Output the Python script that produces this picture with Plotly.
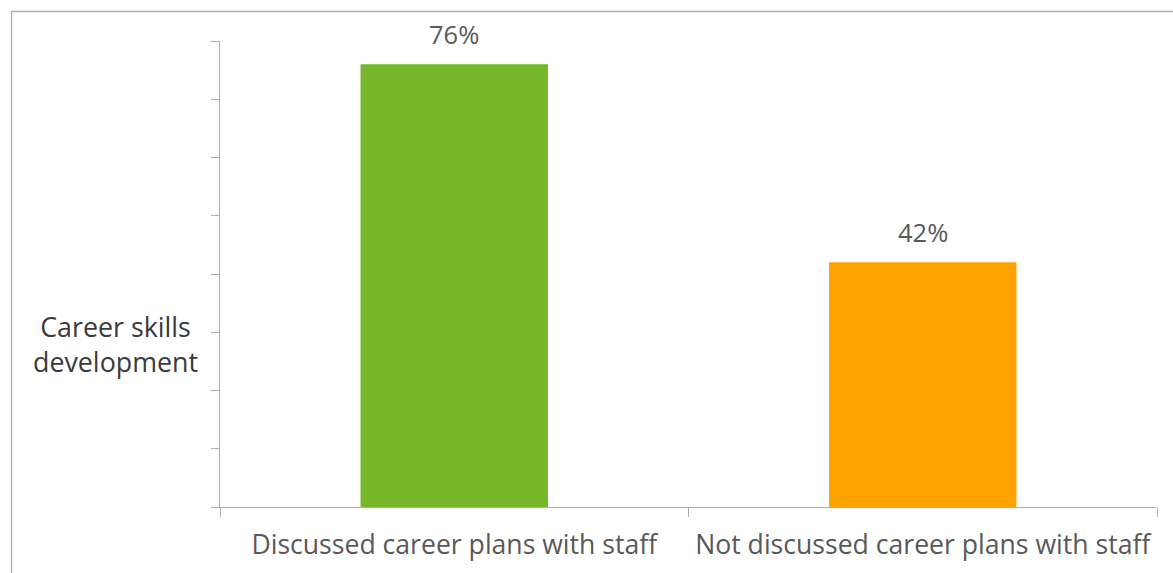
import plotly.graph_objects as go

categories = ["Discussed career plans with staff", "Not discussed career plans with staff"]
values = [0.76, 0.42]
bar_colors = ["#76B82A", "#FFA200"]
y_title = "Career skills<br>development"

W, H = 1173, 573
ml, mr, mt, mb = 220, 16, 41, 66
pw, ph = W - ml - mr, H - mt - mb

fig = go.Figure(
    go.Bar(
        x=categories,
        y=values,
        marker=dict(color=bar_colors, line=dict(width=0)),
        width=0.4,
        hoverinfo="skip",
    )
)

# value labels sitting above each bar
for cat, v in zip(categories, values):
    fig.add_annotation(
        x=cat, y=v, text=f"{round(v * 100)}%",
        showarrow=False, yanchor="bottom", yshift=11,
        font=dict(family="Open Sans", size=25.5, color="#595959"),
    )

# horizontal y-axis title
fig.add_annotation(
    xref="paper", yref="paper",
    x=(115 - ml) / pw, y=(H - mb - 344) / ph,
    text=y_title, showarrow=False,
    xanchor="center", yanchor="middle",
    font=dict(family="Open Sans", size=26.8, color="#3A3A3A"),
)

# outer frame
fig.add_shape(
    type="rect", xref="paper", yref="paper",
    x0=(11.5 - ml) / pw, x1=(W + 20 - ml) / pw,
    y0=-(mb + 30) / ph, y1=1 + (mt - 11.5) / ph,
    line=dict(color="#ADADAD", width=1.3), fillcolor="rgba(0,0,0,0)",
    layer="below",
)

fig.update_layout(
    width=W, height=H,
    margin=dict(l=ml, r=mr, t=mt, b=mb),
    paper_bgcolor="white", plot_bgcolor="white",
    showlegend=False,
    font=dict(family="Open Sans", color="#595959"),
    bargap=0.6,
)
fig.update_xaxes(
    type="category", tickson="boundaries",
    showline=True, linecolor="#ADADAD", linewidth=1.3,
    ticks="outside", ticklen=9, tickcolor="#ADADAD", tickwidth=1.3,
    tickfont=dict(family="Open Sans", size=26.6, color="#595959"),
    ticklabelstandoff=14,
    showgrid=False, zeroline=False,
)
fig.update_yaxes(
    range=[0, 0.8], dtick=0.1, tick0=0,
    showline=True, linecolor="#ADADAD", linewidth=1.3,
    ticks="outside", ticklen=8, tickcolor="#ADADAD", tickwidth=1.3,
    showticklabels=False, showgrid=False, zeroline=False,
)

fig.write_html("out.html")
